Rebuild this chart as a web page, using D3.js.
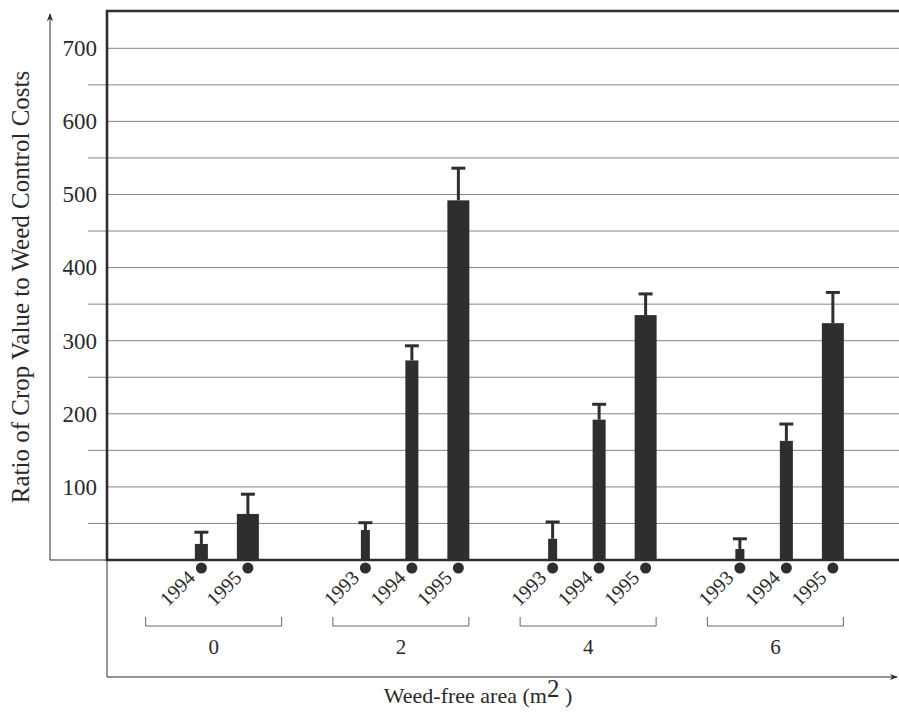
<!DOCTYPE html>
<html>
<head>
<meta charset="utf-8">
<script src="https://cdn.jsdelivr.net/npm/d3@7"></script>
<style>
  html, body { margin: 0; padding: 0; background: #fff; }
  svg { display: block; }
  text { font-family: "Liberation Serif", "DejaVu Serif", serif; fill: #2a2a2a; }
</style>
</head>
<body>
<svg id="chart" width="899" height="714"></svg>
<script>
// ---- data ----
const groups = ["0", "2", "4", "6"];
const barGroup = ["0", "0", "2", "2", "2", "4", "4", "4", "6", "6", "6"];
const barYear  = ["1994", "1995", "1993", "1994", "1995", "1993", "1994", "1995", "1993", "1994", "1995"];
const barValue = [22, 63, 41, 273, 492, 29, 192, 335, 15, 163, 324];
const barUpper = [38, 90, 51, 293, 536, 52, 213, 364, 29, 186, 366];
const majorTicks = [100, 200, 300, 400, 500, 600, 700];
const minorTicks = [50, 150, 250, 350, 450, 550, 650];
const yTitle = "Ratio of Crop Value to Weed Control Costs";
const xTitle = "Weed-free area (m";

// ---- styles ----
const ink = "#2e2e2e";
const barWidthByYear = { "1993": 9, "1994": 13, "1995": 22 };

const svg = d3.select("#chart");
const W = 899;
const frameL = 107, frameT = 11, baseY = 560;

const y = d3.scaleLinear().domain([0, 751]).range([baseY, frameT]);
const xg = d3.scaleBand().domain(groups).range([131, 880]).padding(0);
const step = 46.5;

const bars = barValue.map((v, i) => ({ g: barGroup[i], year: barYear[i], v, up: barUpper[i] }));
const innerScales = {};
groups.forEach(g => {
  const ys = bars.filter(b => b.g === g).map(b => b.year);
  const half = (ys.length - 1) / 2 * step;
  innerScales[g] = d3.scalePoint().domain(ys).range([-half, half]);
});
const cx = b => xg(b.g) + xg.bandwidth() / 2 + innerScales[b.g](b.year);
const gc = g => xg(g) + xg.bandwidth() / 2;

// defs: arrowhead
svg.append("defs").append("marker")
  .attr("id", "arr").attr("viewBox", "0 0 10 10").attr("refX", 9).attr("refY", 5)
  .attr("markerWidth", 8).attr("markerHeight", 8).attr("markerUnits", "userSpaceOnUse")
  .attr("orient", "auto")
  .append("path").attr("d", "M0,1 L10,5 L0,9 L3,5 Z").attr("fill", ink);

// gridlines
const grid = svg.append("g");
grid.selectAll("line.minor").data(minorTicks).join("line")
  .attr("x1", 88).attr("x2", W).attr("y1", d => y(d)).attr("y2", d => y(d))
  .attr("stroke", "#858585").attr("stroke-width", 1);
grid.selectAll("line.major").data(majorTicks).join("line")
  .attr("x1", frameL).attr("x2", W).attr("y1", d => y(d)).attr("y2", d => y(d))
  .attr("stroke", "#858585").attr("stroke-width", 1);

// y axis labels via d3 axis
const yAxis = d3.axisLeft(y).tickValues(majorTicks).tickSize(0).tickPadding(0).tickFormat(d3.format("d"));
const ya = svg.append("g").attr("transform", `translate(97,0)`).call(yAxis);
ya.select(".domain").remove();
ya.selectAll("text").attr("font-size", 23).attr("fill", "#2a2a2a")
  .style("font-family", '"Liberation Serif", serif');

// outer thin y-axis with arrow
svg.append("line").attr("x1", 50).attr("x2", 50).attr("y1", baseY).attr("y2", 14)
  .attr("stroke", ink).attr("stroke-width", 1).attr("marker-end", "url(#arr)");
svg.append("line").attr("x1", 50).attr("x2", frameL).attr("y1", baseY).attr("y2", baseY)
  .attr("stroke", ink).attr("stroke-width", 1);
// thin continuation and bottom x arrow
svg.append("line").attr("x1", frameL).attr("x2", frameL).attr("y1", baseY).attr("y2", 677)
  .attr("stroke", ink).attr("stroke-width", 1);
svg.append("line").attr("x1", frameL).attr("x2", 897).attr("y1", 677).attr("y2", 677)
  .attr("stroke", ink).attr("stroke-width", 1).attr("marker-end", "url(#arr)");

// frame (top, left, baseline)
svg.append("path")
  .attr("d", `M${W},${frameT} H${frameL} V${baseY} H${W}`)
  .attr("fill", "none").attr("stroke", ink).attr("stroke-width", 2.6);

// error bars
const eb = svg.append("g");
eb.selectAll("line.stem").data(bars).join("line")
  .attr("x1", cx).attr("x2", cx).attr("y1", d => y(d.v)).attr("y2", d => y(d.up))
  .attr("stroke", ink).attr("stroke-width", 3);
eb.selectAll("line.cap").data(bars).join("line")
  .attr("x1", d => cx(d) - 7).attr("x2", d => cx(d) + 7).attr("y1", d => y(d.up)).attr("y2", d => y(d.up))
  .attr("stroke", ink).attr("stroke-width", 3);

// bars
svg.append("g").selectAll("rect").data(bars).join("rect")
  .attr("x", d => cx(d) - barWidthByYear[d.year] / 2)
  .attr("width", d => barWidthByYear[d.year])
  .attr("y", d => y(d.v))
  .attr("height", d => y(0) - y(d.v))
  .attr("fill", ink);

// dots + year labels
svg.append("g").selectAll("circle").data(bars).join("circle")
  .attr("cx", cx).attr("cy", 568).attr("r", 5.5).attr("fill", ink);
svg.append("g").selectAll("text").data(bars).join("text")
  .attr("transform", d => `translate(${cx(d) - 5},${579}) rotate(-45)`)
  .attr("text-anchor", "end")
  .attr("font-size", 20)
  .text(d => d.year);

// brackets + group labels
const br = svg.append("g");
groups.forEach(g => {
  const c = gc(g) - 11;
  br.append("path")
    .attr("d", `M${c - 68},617 V626 H${c + 68} V617`)
    .attr("fill", "none").attr("stroke", "#666").attr("stroke-width", 1);
  br.append("text").attr("x", c).attr("y", 654).attr("text-anchor", "middle")
    .attr("font-size", 21).text(g);
});

// axis titles
svg.append("text")
  .attr("transform", `translate(29,287) rotate(-90)`)
  .attr("text-anchor", "middle").attr("font-size", 25)
  .text(yTitle);
const xt = svg.append("text").attr("x", 478).attr("y", 703).attr("text-anchor", "middle")
  .attr("font-size", 22);
xt.append("tspan").text(xTitle);
xt.append("tspan").attr("dy", -6).attr("font-size", 25).text("2");
xt.append("tspan").attr("dy", 6).text(" )");
</script>
</body>
</html>
